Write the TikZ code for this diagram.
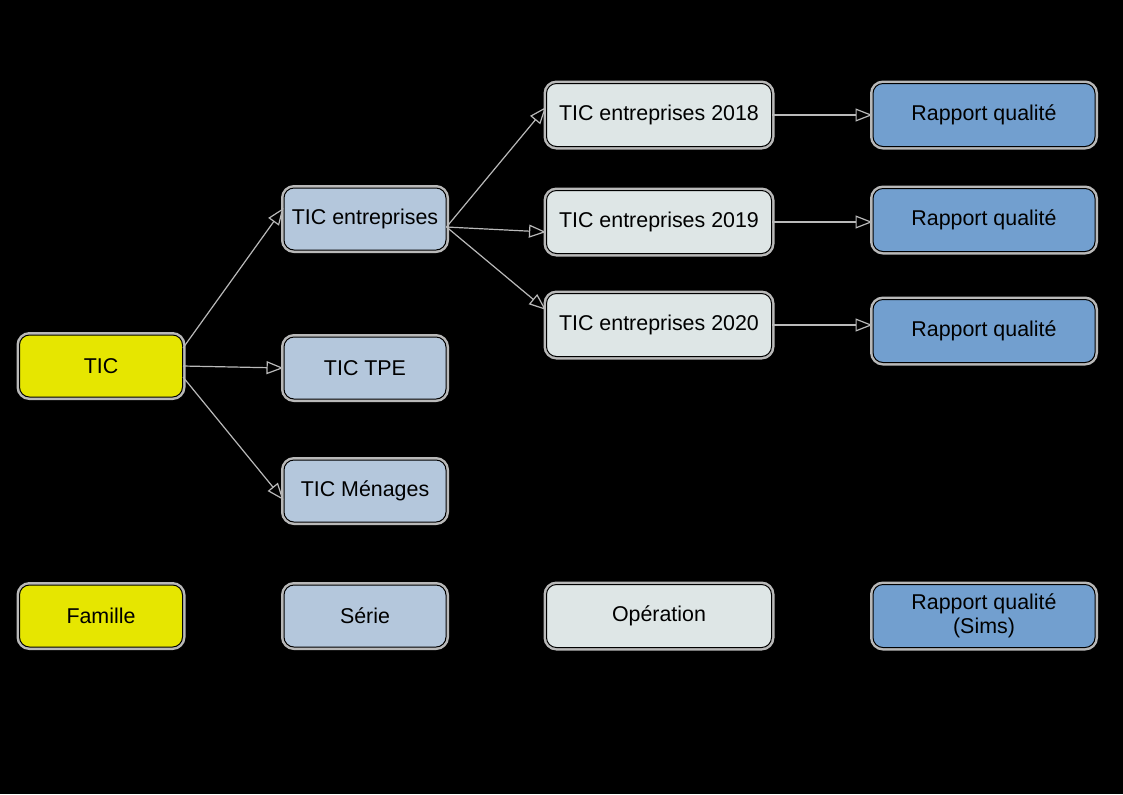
\documentclass[tikz,border=0pt]{standalone}
\usepackage{fontspec}
\setmainfont{Liberation Sans}
\usetikzlibrary{arrows.meta}
\definecolor{famcol}{HTML}{E6E600}
\definecolor{sercol}{HTML}{B4C7DC}
\definecolor{opecol}{HTML}{DEE6E6}
\definecolor{rapcol}{HTML}{729FCF}
\tikzset{
	boite/.style={draw=black, line width=0.5pt, rounded corners=5pt, align=center,
		inner sep=0pt, font=\fontsize{10.7}{12}\selectfont,
		preaction={draw=gray!55, line width=3pt, sharp corners}},
	famille/.style={boite, fill=famcol, minimum width=81.5pt, minimum height=31pt},
	serie/.style={boite, fill=sercol, minimum width=81pt, minimum height=31pt},
	operation/.style={boite, fill=opecol, minimum width=112.5pt, minimum height=31.5pt},
	rapport/.style={boite, fill=rapcol, minimum width=111pt, minimum height=31.5pt},
	fleche/.style={draw=gray!55, line width=0.6pt,
		-{Triangle[length=8.5pt, width=6.5pt, fill=black, line width=0.6pt]}}
}
\begin{document}
\begin{tikzpicture}[x=0.5pt, y=-0.5pt]
		\fill[black] (0,0) rectangle (1123,794);
		\useasboundingbox (0,0) rectangle (1123,794);
		% familles et series
		\node[famille] (tic) at (101,366) {TIC};
		\node[serie] (ent) at (365,219) {TIC entreprises};
		\node[serie] (tpe) at (365,368) {TIC TPE};
		\node[serie] (men) at (365,491) {TIC Ménages};
		% operations et rapports
		\node[operation] (e2018) at (659,115) {TIC entreprises 2018};
		\node[operation] (e2019) at (659,222) {TIC entreprises 2019};
		\node[operation] (e2020) at (659,325) {TIC entreprises 2020};
		\node[rapport] (r2018) at (984,115) {Rapport qualité};
		\node[rapport] (r2019) at (984,220) {Rapport qualité};
		\node[rapport] (r2020) at (984,331) {Rapport qualité};
		% fleches
		\draw[fleche] ([yshift=9pt]tic.east) -- ([yshift=5.5pt]ent.west);
		\draw[fleche] (tic.east) -- (tpe.west);
		\draw[fleche] ([yshift=-5.5pt]tic.east) -- ([yshift=-4.5pt]men.west);
		\draw[fleche] ([yshift=-4pt]ent.east) -- ([yshift=4pt]e2018.west);
		\draw[fleche] ([yshift=-4pt]ent.east) -- ([yshift=-5pt]e2019.west);
		\draw[fleche] ([yshift=-4pt]ent.east) -- ([yshift=7.5pt]e2020.west);
		\foreach \i in {2018,2019,2020}{
			\draw[fleche] (e\i.east) -- (e\i.east -| r\i.west);
		}
		% legende
		\node[famille] (lfam) at (101,616) {Famille};
		\node[serie] (lser) at (365,616) {Série};
		\node[operation] (lope) at (659,616) {Opération};
		\node[rapport] (lrap) at (984,616) {Rapport qualité\\(Sims)};
	\end{tikzpicture}
\end{document}
